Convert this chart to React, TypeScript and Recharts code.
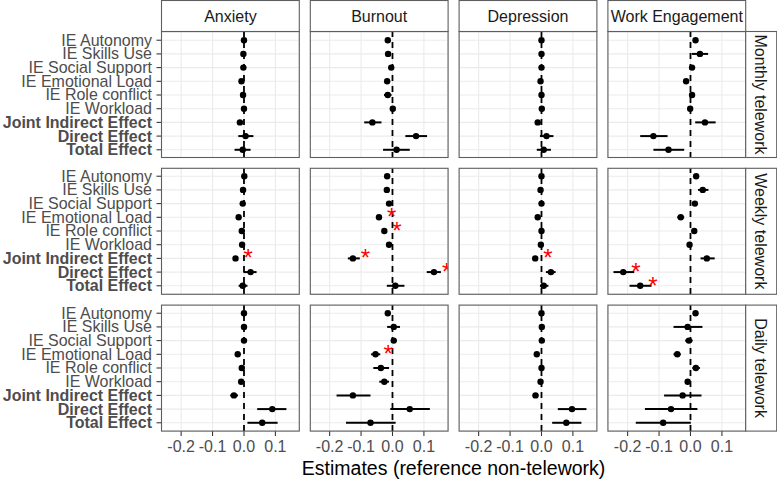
import React from 'react';
import { ScatterChart, Scatter, XAxis, YAxis, CartesianGrid, ReferenceLine, ErrorBar } from 'recharts';

// ---------- categories / labels ----------
const CATEGORIES = [
  'IE Autonomy',
  'IE Skills Use',
  'IE Social Support',
  'IE Emotional Load',
  'IE Role conflict',
  'IE Workload',
  'Joint Indirect Effect',
  'Direct Effect',
  'Total Effect',
];
const BOLD_CATEGORIES = ['Joint Indirect Effect', 'Direct Effect', 'Total Effect'];
const OUTCOMES = ['Anxiety', 'Burnout', 'Depression', 'Work Engagement'];
const FREQUENCIES = ['Monthly telework', 'Weekly telework', 'Daily telework'];
const X_MAJOR_TICKS = [-0.2, -0.1, 0, 0.1];
const X_MINOR_TICKS = [-0.25, -0.15, -0.05, 0.05, 0.15];
const X_DOMAIN = [-0.2625, 0.176];
const X_TITLE = 'Estimates (reference non-telework)';

// ---------- Monthly ----------
const ANXIETY_MONTHLY_EST = [0.0, -0.002, -0.002, -0.008, -0.003, 0.0, -0.013, 0.005, -0.004];
const ANXIETY_MONTHLY_LO = [-0.004, -0.006, -0.006, -0.012, -0.007, -0.004, -0.018, -0.018, -0.03];
const ANXIETY_MONTHLY_HI = [0.004, 0.002, 0.002, -0.004, 0.001, 0.004, -0.002, 0.03, 0.021];
const ANXIETY_MONTHLY_SIG: number[] = [];

const BURNOUT_MONTHLY_EST = [-0.015, -0.014, -0.004, -0.017, -0.015, 0.001, -0.064, 0.075, 0.013];
const BURNOUT_MONTHLY_LO = [-0.019, -0.018, -0.008, -0.021, -0.027, -0.003, -0.09, 0.041, -0.03];
const BURNOUT_MONTHLY_HI = [-0.011, -0.01, 0.0, -0.013, -0.003, 0.005, -0.035, 0.11, 0.055];
const BURNOUT_MONTHLY_SIG: number[] = [];

const DEPRESSION_MONTHLY_EST = [0.0, 0.0, 0.0, -0.003, 0.0, 0.001, -0.012, 0.016, 0.007];
const DEPRESSION_MONTHLY_LO = [-0.004, -0.004, -0.004, -0.007, -0.004, -0.003, -0.018, -0.005, -0.015];
const DEPRESSION_MONTHLY_HI = [0.004, 0.004, 0.004, 0.001, 0.004, 0.005, -0.003, 0.038, 0.03];
const DEPRESSION_MONTHLY_SIG: number[] = [];

const ENGAGEMENT_MONTHLY_EST = [0.016, 0.03, 0.005, -0.014, 0.005, -0.001, 0.046, -0.118, -0.07];
const ENGAGEMENT_MONTHLY_LO = [0.012, 0.004, 0.001, -0.018, 0.001, -0.005, 0.015, -0.16, -0.118];
const ENGAGEMENT_MONTHLY_HI = [0.02, 0.056, 0.009, -0.01, 0.009, 0.003, 0.08, -0.073, -0.02];
const ENGAGEMENT_MONTHLY_SIG: number[] = [];

// ---------- Weekly ----------
const ANXIETY_WEEKLY_EST = [0.001, -0.003, -0.004, -0.017, -0.007, -0.006, -0.027, 0.021, -0.004];
const ANXIETY_WEEKLY_LO = [-0.003, -0.007, -0.008, -0.021, -0.011, -0.01, -0.031, -0.002, -0.017];
const ANXIETY_WEEKLY_HI = [0.005, 0.001, 0.0, -0.013, -0.003, -0.002, -0.023, 0.04, 0.011];
const ANXIETY_WEEKLY_SIG = ['Joint Indirect Effect'];

const BURNOUT_WEEKLY_EST = [-0.017, -0.018, -0.011, -0.043, -0.026, -0.011, -0.126, 0.132, 0.009];
const BURNOUT_WEEKLY_LO = [-0.021, -0.022, -0.015, -0.047, -0.03, -0.015, -0.142, 0.109, -0.018];
const BURNOUT_WEEKLY_HI = [-0.013, -0.014, -0.007, -0.039, -0.022, -0.007, -0.104, 0.154, 0.038];
const BURNOUT_WEEKLY_SIG = ['IE Emotional Load', 'IE Role conflict', 'Joint Indirect Effect', 'Direct Effect'];

const DEPRESSION_WEEKLY_EST = [0.0, -0.003, 0.0, -0.012, 0.0, -0.002, -0.02, 0.03, 0.007];
const DEPRESSION_WEEKLY_LO = [-0.004, -0.007, -0.004, -0.016, -0.004, -0.006, -0.024, 0.014, -0.005];
const DEPRESSION_WEEKLY_HI = [0.004, 0.001, 0.004, -0.008, 0.004, 0.002, -0.016, 0.045, 0.022];
const DEPRESSION_WEEKLY_SIG = ['Joint Indirect Effect'];

const ENGAGEMENT_WEEKLY_EST = [0.018, 0.039, 0.014, -0.031, 0.012, -0.003, 0.052, -0.214, -0.16];
const ENGAGEMENT_WEEKLY_LO = [0.014, 0.024, 0.01, -0.042, 0.008, -0.007, 0.032, -0.245, -0.194];
const ENGAGEMENT_WEEKLY_HI = [0.022, 0.057, 0.018, -0.02, 0.016, 0.001, 0.077, -0.179, -0.124];
const ENGAGEMENT_WEEKLY_SIG = ['Direct Effect', 'Total Effect'];

// ---------- Daily ----------
const ANXIETY_DAILY_EST = [0.0, 0.0, 0.0, -0.02, -0.007, -0.009, -0.032, 0.09, 0.058];
const ANXIETY_DAILY_LO = [-0.004, -0.004, -0.004, -0.024, -0.011, -0.013, -0.044, 0.042, 0.011];
const ANXIETY_DAILY_HI = [0.004, 0.004, 0.004, -0.016, -0.003, -0.005, -0.019, 0.135, 0.107];
const ANXIETY_DAILY_SIG: string[] = [];

const BURNOUT_DAILY_EST = [-0.015, 0.004, 0.004, -0.054, -0.037, -0.026, -0.126, 0.055, -0.07];
const BURNOUT_DAILY_LO = [-0.019, -0.017, 0.0, -0.068, -0.061, -0.042, -0.178, -0.007, -0.148];
const BURNOUT_DAILY_HI = [-0.011, 0.024, 0.008, -0.039, -0.011, -0.011, -0.07, 0.119, 0.01];
const BURNOUT_DAILY_SIG = ['IE Emotional Load'];

const DEPRESSION_DAILY_EST = [0.0, 0.001, 0.001, -0.015, 0.0, -0.003, -0.019, 0.097, 0.079];
const DEPRESSION_DAILY_LO = [-0.004, -0.003, -0.003, -0.019, -0.004, -0.007, -0.028, 0.052, 0.034];
const DEPRESSION_DAILY_HI = [0.004, 0.005, 0.005, -0.011, 0.004, 0.001, -0.01, 0.143, 0.127];
const DEPRESSION_DAILY_SIG: string[] = [];

const ENGAGEMENT_DAILY_EST = [0.016, -0.009, -0.005, -0.042, 0.017, -0.009, -0.025, -0.062, -0.087];
const ENGAGEMENT_DAILY_LO = [0.012, -0.054, -0.017, -0.054, 0.006, -0.013, -0.084, -0.145, -0.174];
const ENGAGEMENT_DAILY_HI = [0.02, 0.038, 0.007, -0.031, 0.03, -0.005, 0.035, 0.022, 0.001];
const ENGAGEMENT_DAILY_SIG: string[] = [];

// grid of panels [row][col]
const PANEL_SERIES = [
  [
    [ANXIETY_MONTHLY_EST, ANXIETY_MONTHLY_LO, ANXIETY_MONTHLY_HI, ANXIETY_MONTHLY_SIG],
    [BURNOUT_MONTHLY_EST, BURNOUT_MONTHLY_LO, BURNOUT_MONTHLY_HI, BURNOUT_MONTHLY_SIG],
    [DEPRESSION_MONTHLY_EST, DEPRESSION_MONTHLY_LO, DEPRESSION_MONTHLY_HI, DEPRESSION_MONTHLY_SIG],
    [ENGAGEMENT_MONTHLY_EST, ENGAGEMENT_MONTHLY_LO, ENGAGEMENT_MONTHLY_HI, ENGAGEMENT_MONTHLY_SIG],
  ],
  [
    [ANXIETY_WEEKLY_EST, ANXIETY_WEEKLY_LO, ANXIETY_WEEKLY_HI, ANXIETY_WEEKLY_SIG],
    [BURNOUT_WEEKLY_EST, BURNOUT_WEEKLY_LO, BURNOUT_WEEKLY_HI, BURNOUT_WEEKLY_SIG],
    [DEPRESSION_WEEKLY_EST, DEPRESSION_WEEKLY_LO, DEPRESSION_WEEKLY_HI, DEPRESSION_WEEKLY_SIG],
    [ENGAGEMENT_WEEKLY_EST, ENGAGEMENT_WEEKLY_LO, ENGAGEMENT_WEEKLY_HI, ENGAGEMENT_WEEKLY_SIG],
  ],
  [
    [ANXIETY_DAILY_EST, ANXIETY_DAILY_LO, ANXIETY_DAILY_HI, ANXIETY_DAILY_SIG],
    [BURNOUT_DAILY_EST, BURNOUT_DAILY_LO, BURNOUT_DAILY_HI, BURNOUT_DAILY_SIG],
    [DEPRESSION_DAILY_EST, DEPRESSION_DAILY_LO, DEPRESSION_DAILY_HI, DEPRESSION_DAILY_SIG],
    [ENGAGEMENT_DAILY_EST, ENGAGEMENT_DAILY_LO, ENGAGEMENT_DAILY_HI, ENGAGEMENT_DAILY_SIG],
  ],
] as any[];

// ---------- layout ----------
const FONT = '"Liberation Sans", Arial, Helvetica, sans-serif';
const PANEL_LEFT = [161.5, 310.3, 459.1, 607.9];
const PANEL_TOP = [31.5, 168.3, 305.1];
const PANEL_W = 137.8;
const PANEL_H = 126;
const Y_AXIS_W = 161.5;
const X_AXIS_H = 40;
const STRIP = 31;
const BORDER = '#5E5E5E';

function buildRows(est: number[], lo: number[], hi: number[]) {
  return CATEGORIES.map((c, i) => ({
    idx: i + 1,
    label: c,
    est: est[i],
    err: [est[i] - lo[i], hi[i] - est[i]],
  }));
}

const PointShape = (p: any) => <circle cx={p.cx} cy={p.cy} r={3.2} fill="#000" />;

const StarShape = (p: any) => (
  <text x={p.cx + 12.6} y={p.cy + 7.9} textAnchor="middle" fontSize={24} fill="#FF0000" fontFamily={FONT}>
    *
  </text>
);

const YTick = (p: any) => {
  const label = CATEGORIES[Math.round(p.payload.value) - 1];
  const bold = BOLD_CATEGORIES.includes(label);
  return (
    <text
      x={p.x}
      y={p.y}
      textAnchor="end"
      dominantBaseline="central"
      fontSize={16}
      fontWeight={bold ? 'bold' : 'normal'}
      fill="#4D4D4D"
      fontFamily={FONT}
    >
      {label}
    </text>
  );
};

const XTick = (p: any) => (
  <text x={p.x} y={p.y + 12.2} textAnchor="middle" fontSize={16} fill="#4D4D4D" fontFamily={FONT}>
    {Number(p.payload.value).toFixed(1)}
  </text>
);

function Panel({ row, col }: { row: number; col: number }) {
  const [est, lo, hi, sig] = PANEL_SERIES[row][col];
  const rows = buildRows(est, lo, hi);
  const stars = rows.filter((r) => sig.includes(r.label));
  const yW = col === 0 ? Y_AXIS_W : 0;
  const xH = row === 2 ? X_AXIS_H : 0;
  return (
    <div style={{ position: 'absolute', left: PANEL_LEFT[col] - yW, top: PANEL_TOP[row] }}>
      <ScatterChart
        width={PANEL_W + yW}
        height={PANEL_H + xH}
        margin={{ top: 0, right: 0, bottom: 0, left: 0 }}
      >
        <CartesianGrid xAxisId="minor" horizontal={false} stroke="#EBEBEB" strokeWidth={0.55} />
        <CartesianGrid stroke="#EBEBEB" strokeWidth={1.1} />
        <XAxis
          type="number"
          dataKey="est"
          domain={X_DOMAIN}
          allowDataOverflow
          ticks={X_MAJOR_TICKS}
          interval={0}
          hide={row !== 2}
          height={X_AXIS_H}
          axisLine={false}
          tickSize={5}
          tickMargin={4}
          tickLine={{ stroke: '#333333', strokeWidth: 1.07 }}
          tick={<XTick />}
        />
        <XAxis
          xAxisId="minor"
          type="number"
          domain={X_DOMAIN}
          allowDataOverflow
          ticks={X_MINOR_TICKS}
          interval={0}
          hide
        />
        <YAxis
          type="number"
          dataKey="idx"
          domain={[0.4, 9.6]}
          reversed
          allowDataOverflow
          ticks={[1, 2, 3, 4, 5, 6, 7, 8, 9]}
          interval={0}
          hide={col !== 0}
          width={Y_AXIS_W}
          axisLine={false}
          tickSize={5}
          tickMargin={4.5}
          tickLine={{ stroke: '#333333', strokeWidth: 1.07 }}
          tick={<YTick />}
        />
        <ReferenceLine x={0} stroke="#000" strokeDasharray="6 5" strokeWidth={1.8} />
        <Scatter data={rows} isAnimationActive={false} shape={PointShape}>
          <ErrorBar dataKey="err" direction="x" width={0} strokeWidth={2} stroke="#000" />
        </Scatter>
        <Scatter data={stars} isAnimationActive={false} shape={StarShape} />
      </ScatterChart>
    </div>
  );
}

export default function App() {
  const right = PANEL_LEFT[3] + PANEL_W;
  return (
    <div style={{ position: 'absolute', left: 0, top: 0, width: 777, height: 480, background: '#fff', overflow: 'hidden', fontFamily: FONT }}>
      {FREQUENCIES.map((f, r) => OUTCOMES.map((o, c) => <Panel key={`${r}-${c}`} row={r} col={c} />))}
      <svg width={777} height={480} style={{ position: 'absolute', left: 0, top: 0, pointerEvents: 'none' }}>
        {FREQUENCIES.map((f, r) =>
          OUTCOMES.map((o, c) => (
            <rect
              key={`b-${r}-${c}`}
              x={PANEL_LEFT[c]}
              y={PANEL_TOP[r]}
              width={PANEL_W}
              height={PANEL_H}
              fill="none"
              stroke={BORDER}
              strokeWidth={1.1}
            />
          ))
        )}
        {OUTCOMES.map((o, c) => (
          <g key={`s-${c}`}>
            <rect x={PANEL_LEFT[c]} y={PANEL_TOP[0] - STRIP} width={PANEL_W} height={STRIP} fill="#fff" stroke={BORDER} strokeWidth={1.1} />
            <text x={PANEL_LEFT[c] + PANEL_W / 2} y={21.6} textAnchor="middle" fontSize={16} fill="#1A1A1A" fontFamily={FONT}>
              {o}
            </text>
          </g>
        ))}
        {FREQUENCIES.map((f, r) => (
          <g key={`rs-${r}`}>
            <rect x={right} y={PANEL_TOP[r]} width={STRIP} height={PANEL_H} fill="#fff" stroke={BORDER} strokeWidth={1.1} />
            <text
              x={right + STRIP / 2 - 1}
              y={PANEL_TOP[r] + PANEL_H / 2}
              textAnchor="middle"
              dominantBaseline="central"
              fontSize={16}
              fill="#1A1A1A"
              fontFamily={FONT}
              transform={`rotate(90 ${right + STRIP / 2 - 1} ${PANEL_TOP[r] + PANEL_H / 2})`}
            >
              {f}
            </text>
          </g>
        ))}
        <text x={(PANEL_LEFT[0] + right) / 2} y={475} textAnchor="middle" fontSize={19.5} fill="#000" fontFamily={FONT}>
          {X_TITLE}
        </text>
      </svg>
    </div>
  );
}
